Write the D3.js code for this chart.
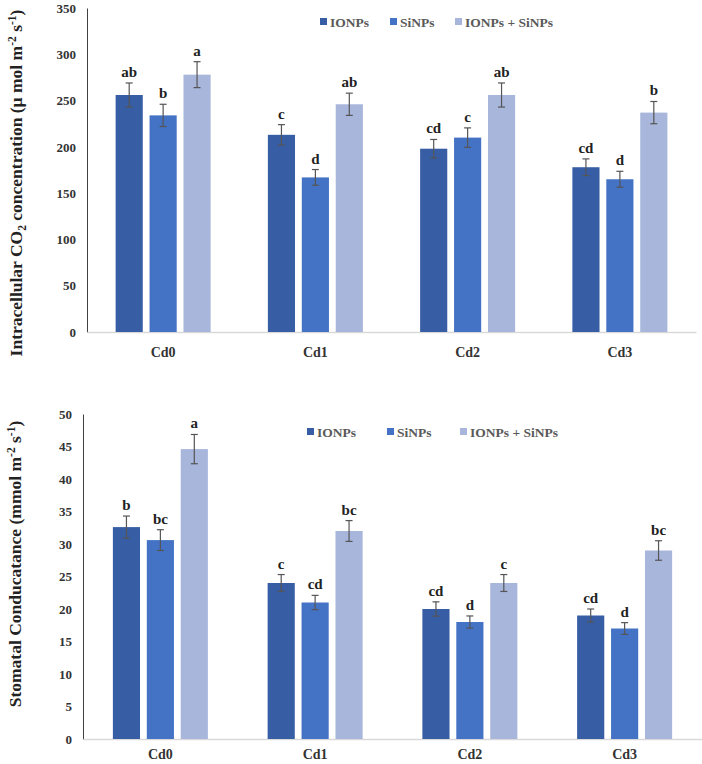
<!DOCTYPE html>
<html><head><meta charset="utf-8">
<script src="https://cdn.jsdelivr.net/npm/d3@7/dist/d3.min.js"></script>
<style>body{margin:0;background:#fff}svg{display:block}</style>
</head><body>
<svg id="c" width="702" height="764"></svg>
<script>
const categories = ["Cd0","Cd1","Cd2","Cd3"];
const seriesNames = ["IONPs","SiNPs","IONPs + SiNPs"];
const colors = ["#375DA5","#4472C4","#A8B6DB"];

// Chart 1: Intracellular CO2
const co2Values = [[256,213,198,178],[234,167,210,165],[278,246,256,237]];
const co2Errors = [[13,11,10,9],[12,8.5,10.5,8.6],[14,12,13,12]];
const co2Letters = [["ab","c","cd","cd"],["b","d","c","d"],["a","ab","ab","b"]];
const co2Ticks = [0,50,100,150,200,250,300,350];

// Chart 2: Stomatal conductance
const gsValues = [[32.6,24,20,19],[30.6,21,18,17],[44.6,32,24,29]];
const gsErrors = [[1.7,1.3,1.1,1.0],[1.6,1.1,0.93,0.9],[2.25,1.6,1.3,1.5]];
const gsLetters = [["b","c","cd","cd"],["bc","cd","d","d"],["a","bc","c","bc"]];
const gsTicks = [0,5,10,15,20,25,30,35,40,45,50];

const FONT = '"Times New Roman","Liberation Serif",serif';
const svg = d3.select("#c");

function drawChart(o){
  const g = svg.append("g");
  const x0 = d3.scaleBand().domain(categories).range([o.left, o.right]);
  const x1 = d3.scaleBand().domain(d3.range(seriesNames.length)).range([-47.5,47.5]).paddingInner(0.2).paddingOuter(0);
  const y = d3.scaleLinear().domain([0,o.max]).range([o.bottom,o.top]);

  // y axis
  const ya = g.append("g").attr("transform",`translate(${o.left},0)`)
    .call(d3.axisLeft(y).tickValues(o.ticks).tickSize(0).tickPadding(o.tickPad));
  ya.select(".domain").attr("stroke","#404040").attr("stroke-width",1);
  ya.selectAll("text").attr("font-family",FONT).attr("font-weight","bold").attr("font-size",13).attr("fill","#333");

  // x axis
  const xa = g.append("g").attr("transform",`translate(0,${o.bottom})`)
    .call(d3.axisBottom(x0).tickSize(0).tickPadding(o.xPad));
  xa.select(".domain").attr("stroke","#d9d9d9").attr("stroke-width",1.5);
  xa.selectAll("text").attr("font-family",FONT).attr("font-weight","bold").attr("font-size",14).attr("fill","#333");

  seriesNames.forEach((s,si)=>{
    categories.forEach((c,ci)=>{
      const v = o.values[si][ci], e = o.errors[si][ci];
      const cx = x0(c) + x0.bandwidth()/2;
      const bx = cx + x1(si);
      g.append("rect").attr("x",bx).attr("y",y(v)).attr("width",x1.bandwidth()).attr("height",y(0)-y(v)).attr("fill",colors[si]);
      const mx = bx + x1.bandwidth()/2;
      const eg = g.append("g").attr("stroke","#555").attr("stroke-width",1.2);
      eg.append("line").attr("x1",mx).attr("x2",mx).attr("y1",y(v+e)).attr("y2",y(v-e));
      eg.append("line").attr("x1",mx-3.5).attr("x2",mx+3.5).attr("y1",y(v+e)).attr("y2",y(v+e));
      eg.append("line").attr("x1",mx-3.5).attr("x2",mx+3.5).attr("y1",y(v-e)).attr("y2",y(v-e));
      g.append("text").attr("x",mx).attr("y",y(v+e)-6).attr("text-anchor","middle")
        .attr("font-family",FONT).attr("font-weight","bold").attr("font-size",15).attr("fill","#222")
        .text(o.letters[si][ci]);
    });
  });

  // legend
  const lg = g.append("g").attr("font-family",FONT).attr("font-weight","bold").attr("font-size",13.5).attr("fill","#595959");
  seriesNames.forEach((s,si)=>{
    lg.append("rect").attr("x",o.legendX[si]).attr("y",o.legendY-4).attr("width",7).attr("height",7).attr("fill",colors[si]);
    lg.append("text").attr("x",o.legendX[si]+10).attr("y",o.legendY).attr("dy","0.35em").text(s);
  });

  // y title
  const t = g.append("text").attr("transform",`translate(${o.titleX},${o.titleY}) rotate(-90)`)
    .attr("text-anchor","middle").attr("font-family",FONT).attr("font-weight","bold").attr("font-size",o.titleSize).attr("fill","#222");
  o.title(t);
}

drawChart({
  left:87, right:696, top:8, bottom:332, max:350, ticks:co2Ticks, tickPad:11, xPad:15,
  values:co2Values, errors:co2Errors, letters:co2Letters,
  legendX:[320,390,455], legendY:22,
  titleX:22, titleY:183, titleSize:17.5,
  title:t=>{
    t.append("tspan").text("Intracellular CO");
    t.append("tspan").attr("font-size",11.5).attr("dy",4).text("2");
    t.append("tspan").attr("dy",-4).text(" concentration (µ mol m");
    t.append("tspan").attr("font-size",11.5).attr("dy",-6).text("-2");
    t.append("tspan").attr("dy",6).text(" s");
    t.append("tspan").attr("font-size",11.5).attr("dy",-6).text("-1");
    t.append("tspan").attr("dy",6).text(")");
  }
});

drawChart({
  left:83, right:702, top:414, bottom:739, max:50, ticks:gsTicks, tickPad:11, xPad:10,
  values:gsValues, errors:gsErrors, letters:gsLetters,
  legendX:[307,387,460], legendY:432,
  titleX:21, titleY:564, titleSize:17.5,
  title:t=>{
    t.append("tspan").text("Stomatal Conducatance (mmol m");
    t.append("tspan").attr("font-size",11.5).attr("dy",-6).text("-2");
    t.append("tspan").attr("dy",6).text(" s");
    t.append("tspan").attr("font-size",11.5).attr("dy",-6).text("-1");
    t.append("tspan").attr("dy",6).text(")");
  }
});
</script>
</body></html>
